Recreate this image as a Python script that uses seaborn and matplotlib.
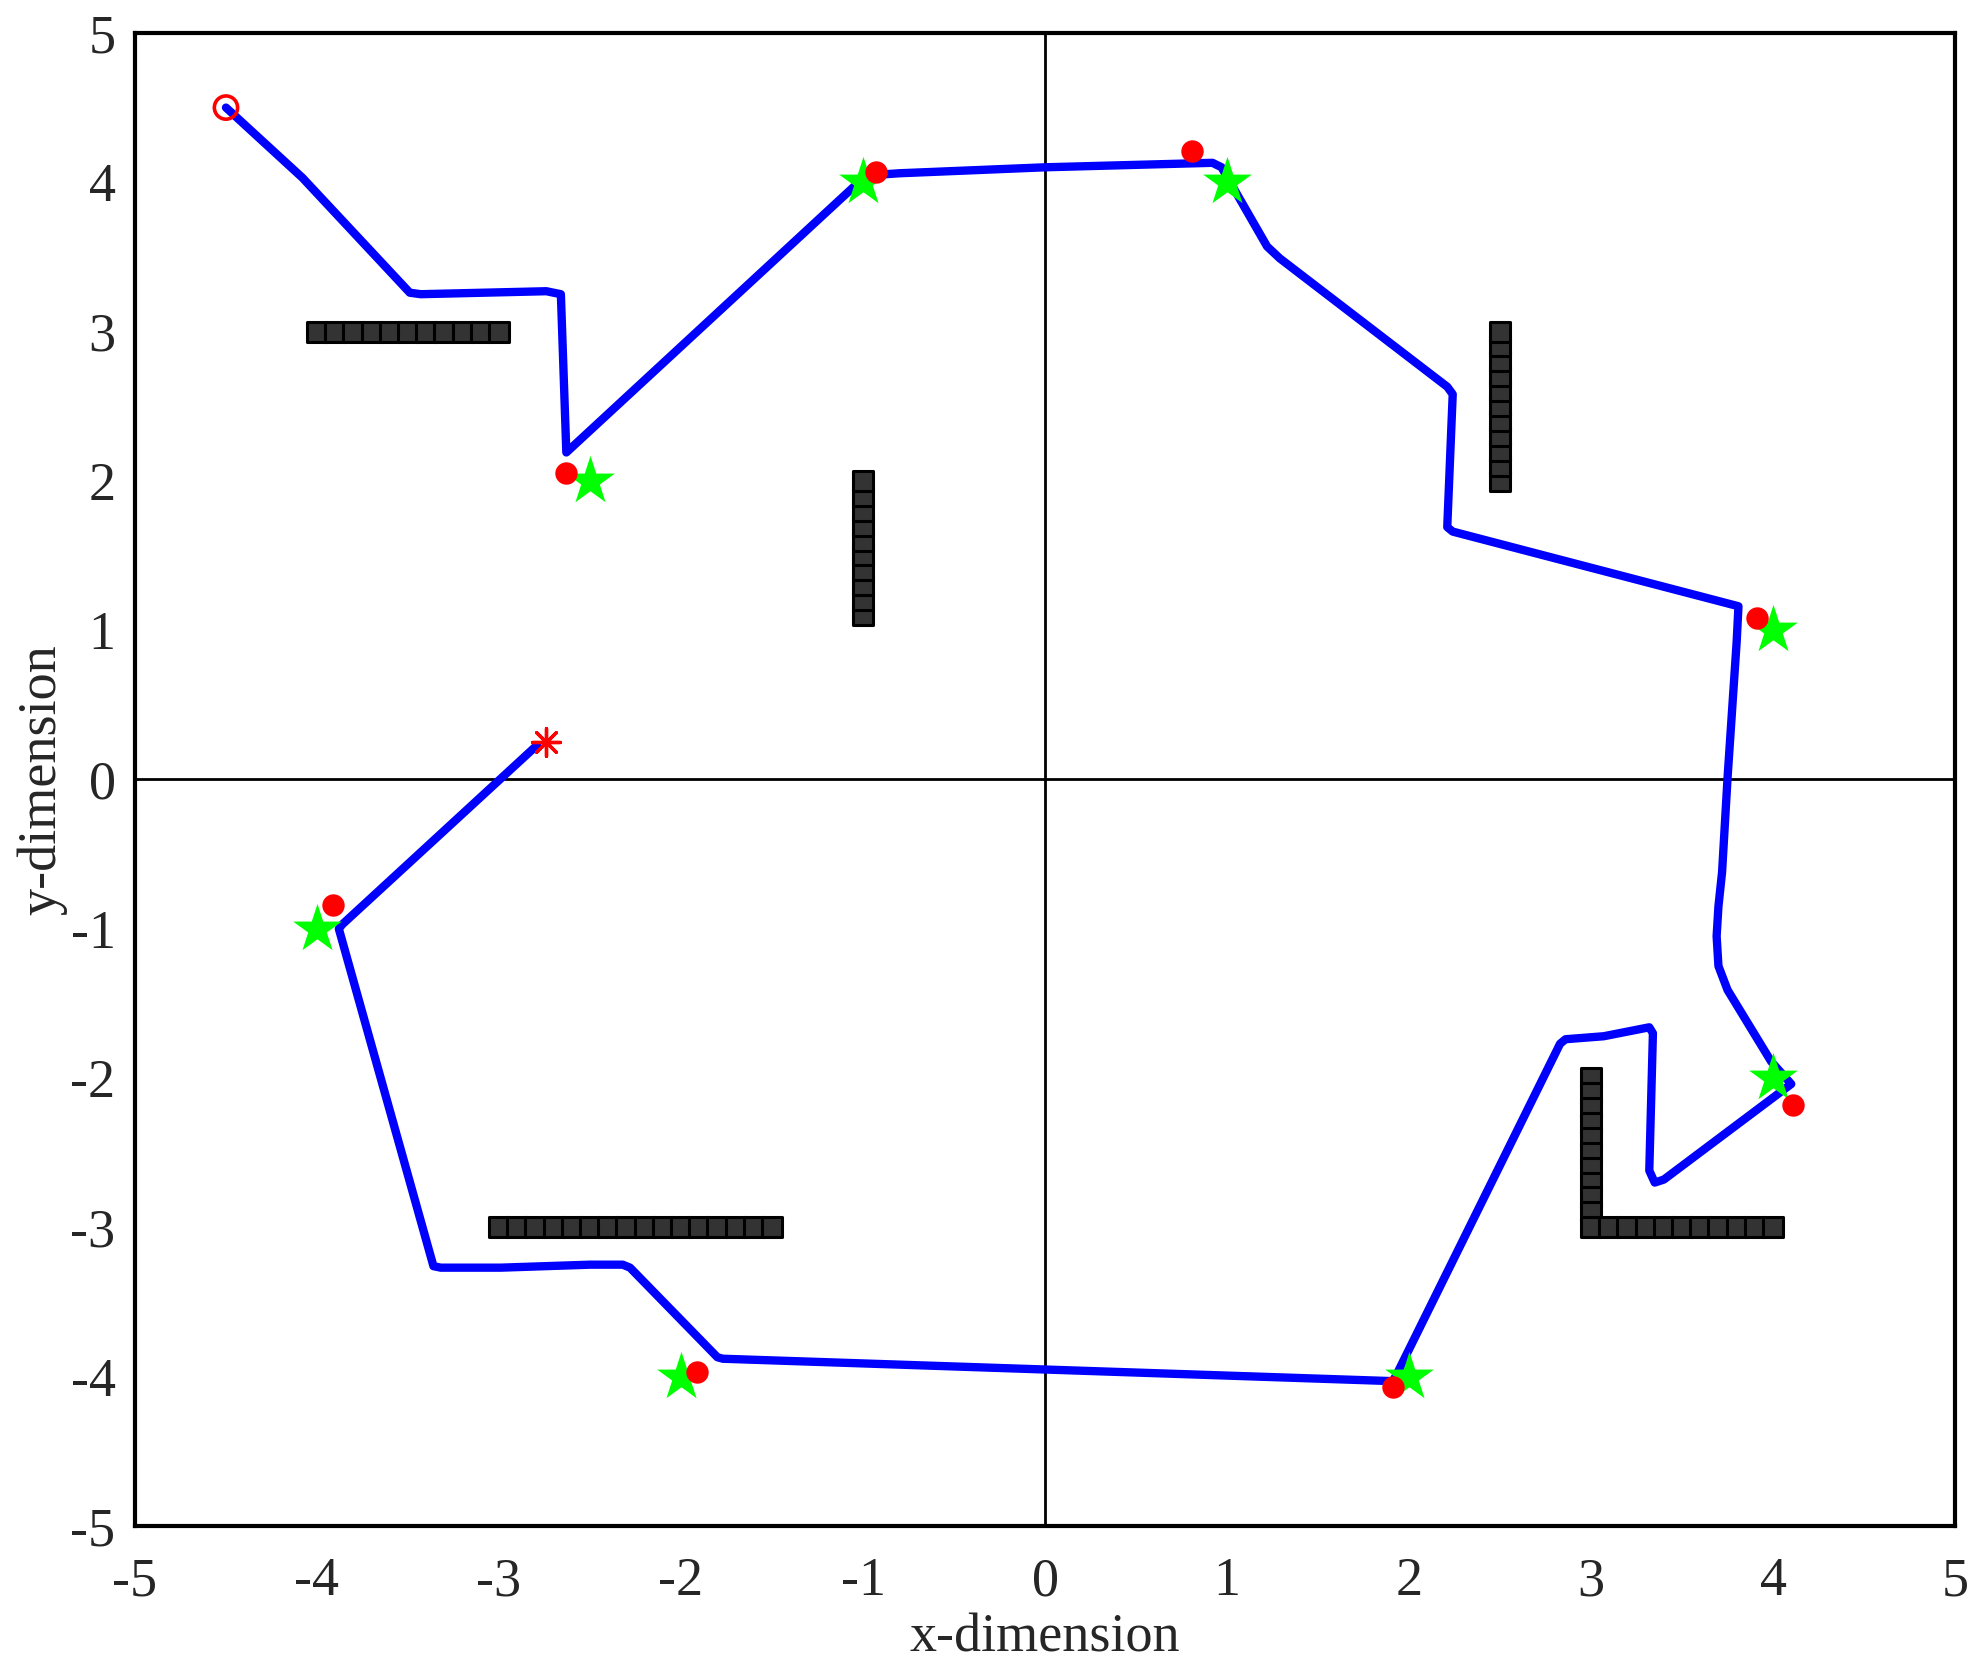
import numpy as np
import matplotlib
matplotlib.use("Agg")
import matplotlib.pyplot as plt
import seaborn as sns

# 로봇 주행 경로 (x, y)
path_x = [-4.50, -4.08, -3.49, -3.43, -2.74, -2.66, -2.63, -1.05, -0.92, -0.80,
          0.00, 0.92, 0.97, 1.22, 1.29, 2.21, 2.24, 2.21, 2.24, 3.81,
          3.80, 3.75, 3.72, 3.70, 3.69, 3.70, 3.75, 3.99, 4.10, 3.40, 3.35,
          3.32, 3.34, 3.32, 3.07, 2.86, 2.83, 1.93, 1.91, -1.77, -1.80,
          -2.28, -2.32, -2.50, -2.99, -3.32, -3.36, -3.88, -3.86, -2.79]
path_y = [4.50, 4.03, 3.26, 3.25, 3.27, 3.25, 2.19, 3.97, 4.05, 4.06,
          4.10, 4.13, 4.10, 3.57, 3.49, 2.63, 2.58, 1.69, 1.66, 1.16,
          0.92, 0.01, -0.62, -0.85, -1.05, -1.25, -1.41, -1.89, -2.04, -2.68, -2.70,
          -2.62, -1.70, -1.66, -1.72, -1.74, -1.77, -3.99, -4.03, -3.88, -3.87,
          -3.27, -3.25, -3.25, -3.27, -3.27, -3.26, -1.00, -0.97, 0.23]

# 목표 지점 (녹색 별)
goal_x = [-1, 1, 4, 4, 2, -2, -4, -2.5]
goal_y = [4, 4, 1, -2, -4, -4, -1, 2]

# 추정 위치 (빨간 점)
est_x = [-0.93, 0.81, 3.91, 4.11, 1.91, -1.91, -3.91, -2.63]
est_y = [4.07, 4.21, 1.08, -2.18, -4.07, -3.97, -0.84, 2.05]

start_x, start_y = [-4.5], [4.5]
end_x, end_y = [-2.74], [0.25]

# 장애물 블록 좌표
obs1_x = [-4.0, -3.9, -3.8, -3.7, -3.6, -3.5, -3.4, -3.3, -3.2, -3.1, -3.0]
obs1_y = [3.0] * 11
obs2_x = [-1.0] * 10
obs2_y = [1.1, 1.2, 1.3, 1.4, 1.5, 1.6, 1.7, 1.8, 1.9, 2.0]
obs3_x = [2.5] * 11
obs3_y = [2.0, 2.1, 2.2, 2.3, 2.4, 2.5, 2.6, 2.7, 2.8, 2.9, 3.0]
obs4_x = [3.0] * 10 + [3.0, 3.1, 3.2, 3.3, 3.4, 3.5, 3.6, 3.7, 3.8, 3.9, 4.0]
obs4_y = [-2.0, -2.1, -2.2, -2.3, -2.4, -2.5, -2.6, -2.7, -2.8, -2.9] + [-3.0] * 11
obs5_x = [-3.0, -2.9, -2.8, -2.7, -2.6, -2.5, -2.4, -2.3, -2.2, -2.1, -2.0,
          -1.9, -1.8, -1.7, -1.6, -1.5]
obs5_y = [-3.0] * 16

obs_x = obs1_x + obs2_x + obs3_x + obs4_x + obs5_x
obs_y = obs1_y + obs2_y + obs3_y + obs4_y + obs5_y

sns.set_style("white")
plt.rcParams['font.family'] = ['Liberation Serif', 'DejaVu Serif']
plt.rcParams['axes.unicode_minus'] = False

fig = plt.figure(figsize=(9.895, 8.355), dpi=200)
ax = fig.add_axes([0.0682, 0.0868, 0.9197, 0.8935])

# 기준 축선
ax.axhline(0, color='black', linewidth=1.0, zorder=1)
ax.axvline(0, color='black', linewidth=1.0, zorder=1)

sns.scatterplot(x=obs_x, y=obs_y, marker='s', s=50, color='#333333',
                edgecolor='black', linewidth=1.1, ax=ax, zorder=2)

sns.lineplot(x=path_x, y=path_y, sort=False, estimator=None, color='#0000ff',
             linewidth=3.0, solid_joinstyle='round', solid_capstyle='round',
             ax=ax, zorder=3)

sns.scatterplot(x=goal_x, y=goal_y, marker='*', s=340, color='#00ff00',
                linewidth=0, ax=ax, zorder=4)
sns.scatterplot(x=est_x, y=est_y, marker='o', s=65, color='#ff0000',
                linewidth=0, ax=ax, zorder=5)
sns.scatterplot(x=start_x, y=start_y, marker='o', s=70, facecolor='none',
                edgecolor='#ff0000', linewidth=1.3, ax=ax, zorder=5)
sns.scatterplot(x=end_x, y=end_y, marker=(8, 2, 0), s=100, color='#ff0000',
                linewidth=1.2, ax=ax, zorder=5)

ax.set_xlim(-5, 5)
ax.set_ylim(-5, 5)
ax.set_xticks(np.arange(-5, 6, 1))
ax.set_yticks(np.arange(-5, 6, 1))
ax.tick_params(axis='both', length=0, labelsize=19.5, colors='#262626')
ax.tick_params(axis='x', pad=11)
ax.tick_params(axis='y', pad=7)

ax.set_xlabel("x-dimension", fontsize=19.5, color='#262626', labelpad=2)
ax.set_ylabel("y-dimension", fontsize=19.5, color='#262626', labelpad=1)

for sp in ax.spines.values():
    sp.set_color('black')
    sp.set_linewidth(1.5)

plt.savefig("out.png", dpi=200)
